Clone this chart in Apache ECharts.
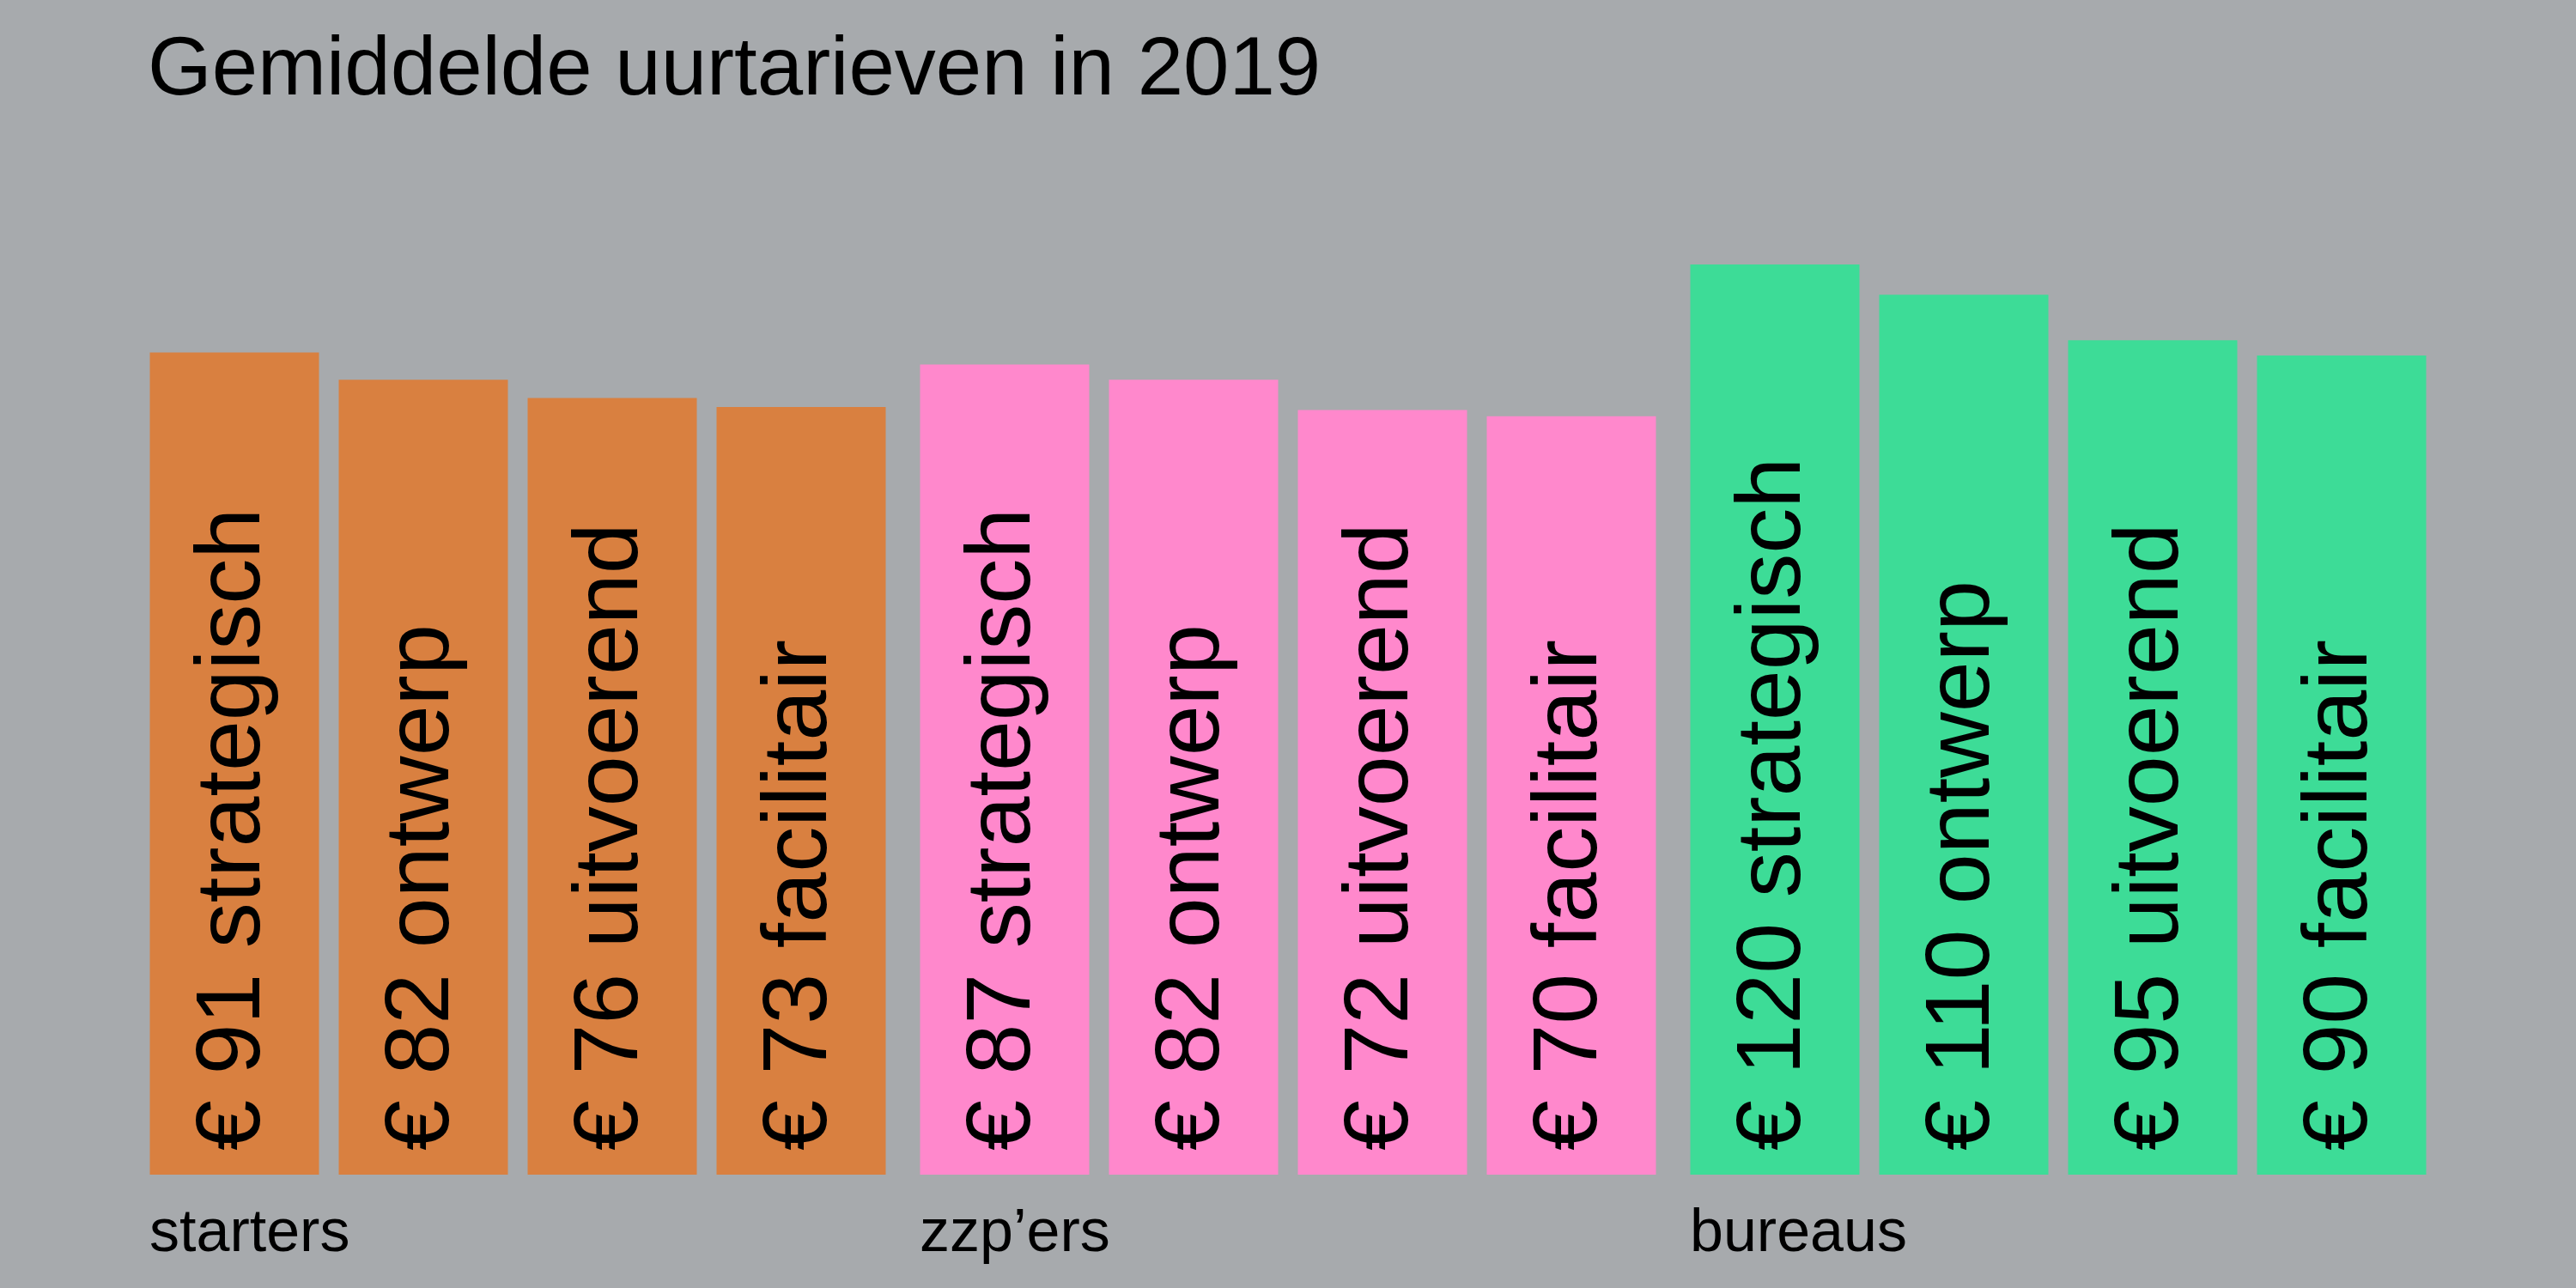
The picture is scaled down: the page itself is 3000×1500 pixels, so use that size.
<!DOCTYPE html>
<html><head><meta charset="utf-8">
<script src="https://cdn.jsdelivr.net/npm/echarts@6/dist/echarts.min.js"></script>
<style>html,body{margin:0;padding:0;background:#a7aaad}#c{width:3000px;height:1500px}</style>
</head><body><div id="c"></div>
<script>
const title = 'Gemiddelde uurtarieven in 2019';
const groups = ['starters', 'zzp\u2019ers', 'bureaus'];
const categories = ['strategisch', 'ontwerp', 'uitvoerend', 'facilitair'];
const starters = [91, 82, 76, 73];
const zzpers = [87, 82, 72, 70];
const bureaus = [120, 110, 95, 90];
const colors = ['#d98040', '#ff88cc', '#3ddc97'];
const values = [starters, zzpers, bureaus];
const font = 'Liberation Sans';
const lefts = [163, 1060, 1957];
const chart = echarts.init(document.getElementById('c'));
const grids = [], xAxes = [], yAxes = [], series = [], graphics = [];
values.forEach((vals, i) => {
  grids.push({left: lefts[i], width: 880, top: 308, bottom: 132});
  xAxes.push({type: 'category', gridIndex: i, data: categories, show: false});
  yAxes.push({type: 'value', gridIndex: i, min: -180, max: 120, startValue: -180, show: false});
  series.push({
    type: 'bar', xAxisIndex: i, yAxisIndex: i, data: vals, barWidth: 197,
    itemStyle: {color: colors[i]}, silent: true,
    label: {show: true, position: 'insideBottom', rotate: 90, align: 'left', verticalAlign: 'middle',
      distance: 28, color: '#000', fontFamily: font, fontSize: 106, letterSpacing: -6,
      formatter: p => '\u20ac ' + p.value + ' ' + p.name}
  });
  graphics.push({type: 'text', left: lefts[i] + 11, top: 1403,
    style: {text: groups[i], fontFamily: font, fontSize: 70, fill: '#000', letterSpacing: -2}});
});
graphics.push({type: 'text', left: 172, top: 36,
  style: {text: title, fontFamily: font, fontSize: 96, fill: '#000', letterSpacing: -2}});
chart.setOption({
  backgroundColor: '#a7aaad', animation: false,
  grid: grids, xAxis: xAxes, yAxis: yAxes, series: series, graphic: graphics
});
</script></body></html>
